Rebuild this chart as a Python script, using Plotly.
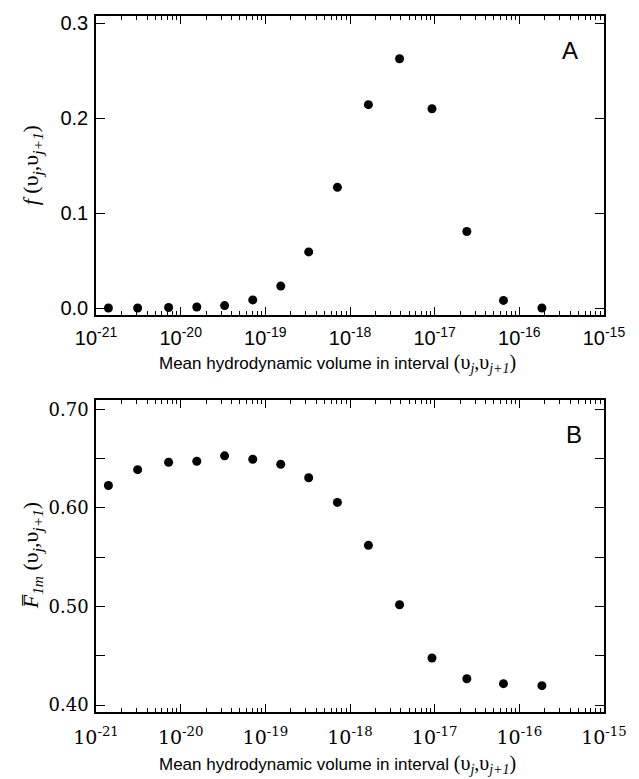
import plotly.graph_objects as go

# Mean hydrodynamic volume (interval midpoints), shared by both panels
volume = [1.4e-21, 3.1e-21, 7.2e-21, 1.55e-20, 3.3e-20, 7.1e-20, 1.52e-19, 3.25e-19,
          7.1e-19, 1.65e-18, 3.85e-18, 9.3e-18, 2.4e-17, 6.5e-17, 1.85e-16]
# Panel A: f(v_j, v_j+1)
f_frac = [0.0005, 0.0005, 0.001, 0.0015, 0.003, 0.009, 0.0235, 0.0595,
          0.1275, 0.2145, 0.2628, 0.2102, 0.081, 0.0085, 0.0005]
# Panel B: mean F_1m(v_j, v_j+1)
f1m = [0.6226, 0.6387, 0.6462, 0.6472, 0.6527, 0.6493, 0.6442, 0.6305,
       0.6055, 0.5620, 0.5017, 0.4477, 0.4267, 0.4217, 0.4197]

a_yticks = [0.0, 0.1, 0.2, 0.3]
b_yticks = [0.40, 0.50, 0.60, 0.70]
b_yminor = [0.45, 0.55, 0.65]
x_exponents = [-21, -20, -19, -18, -17, -16, -15]

x_tickvals = [10.0 ** e for e in x_exponents]
x_ticktext = ["10<sup>-%d</sup>" % (-e) for e in x_exponents]
x_minor = [m * 10.0 ** e for e in x_exponents[:-1] for m in range(2, 10)]

SANS = "Liberation Sans, Arial, sans-serif"
SERIF = "Liberation Serif, Times New Roman, serif"
WSERIF = "DejaVu Serif, serif"

fig = go.Figure()
fig.add_trace(go.Scatter(x=volume, y=f_frac, mode="markers",
                         marker=dict(color="black", size=9), xaxis="x", yaxis="y",
                         showlegend=False))
fig.add_trace(go.Scatter(x=volume, y=f1m, mode="markers",
                         marker=dict(color="black", size=9), xaxis="x2", yaxis="y2",
                         showlegend=False))

common_x = dict(type="log", range=[-21.0005, -14.9995], tickvals=x_tickvals, ticktext=x_ticktext,
                showline=True, linecolor="black", linewidth=1.5, mirror="allticks",
                ticks="inside", ticklen=8, tickwidth=1.2, tickcolor="black",
                minor=dict(ticks="inside", ticklen=4, tickwidth=1, tickcolor="black",
                           tickvals=x_minor),
                showgrid=False, zeroline=False)

fig.update_layout(
    width=639, height=779,
    margin=dict(l=96, r=22, t=13, b=67),
    paper_bgcolor="white", plot_bgcolor="white",
    xaxis=dict(common_x, domain=[0, 1], anchor="y", ticklabelstandoff=5,
               tickfont=dict(family=SANS, size=20, color="black")),
    yaxis=dict(domain=[0.5708, 1.0], range=[-0.0066, 0.3078], tickvals=a_yticks,
               tickformat=".1f", showline=True, linecolor="black", linewidth=1.5,
               mirror="allticks", ticks="inside", ticklen=9, tickwidth=1.2, tickcolor="black",
               showgrid=False, zeroline=False, ticklabelstandoff=2,
               tickfont=dict(family=SANS, size=20, color="black")),
    xaxis2=dict(common_x, domain=[0, 1], anchor="y2", ticklabelstandoff=7,
                tickfont=dict(family=WSERIF, size=19, color="black")),
    yaxis2=dict(domain=[0.0, 0.4478], range=[0.393, 0.709], tickvals=b_yticks,
                tickformat=".2f", showline=True, linecolor="black", linewidth=1.5,
                mirror="allticks", ticks="inside", ticklen=9, tickwidth=1.2, tickcolor="black",
                minor=dict(ticks="inside", ticklen=9, tickwidth=1.2, tickcolor="black",
                           tickvals=b_yminor),
                showgrid=False, zeroline=False, ticklabelstandoff=2,
                tickfont=dict(family=WSERIF, size=18, color="black")),
)

ups = "(υ<sub><i>j</i></sub>,υ<sub><i>j+1</i></sub>)"
xtitle = ("Mean hydrodynamic volume in interval "
          "<span style='font-family:Liberation Serif, serif;font-size:20px'>" + ups + "</span>")

annotations = [
    dict(text=xtitle, x=0.476, y=0.5007, xref="paper", yref="paper", showarrow=False,
         xanchor="center", yanchor="middle", font=dict(family=SANS, size=17, color="black")),
    dict(text=xtitle, x=0.476, y=-0.0758, xref="paper", yref="paper", showarrow=False,
         xanchor="center", yanchor="middle", font=dict(family=SANS, size=17, color="black")),
    dict(text="<i>f</i> " + ups, x=-0.1267, y=0.785, xref="paper", yref="paper",
         showarrow=False, textangle=-90, xanchor="center", yanchor="middle",
         font=dict(family=SERIF, size=22, color="black")),
    dict(text="<i>F\u0305</i><sub><i>1m</i></sub> " + ups, x=-0.1267, y=0.2246,
         xref="paper", yref="paper", showarrow=False, textangle=-90,
         xanchor="center", yanchor="middle", font=dict(family=SERIF, size=22, color="black")),
    dict(text="A", x=0.933, y=0.951, xref="paper", yref="paper", showarrow=False,
         xanchor="center", yanchor="middle", font=dict(family=SANS, size=24, color="black")),
    dict(text="B", x=0.940, y=0.399, xref="paper", yref="paper", showarrow=False,
         xanchor="center", yanchor="middle", font=dict(family=SANS, size=24, color="black")),
]
fig.update_layout(annotations=annotations)

fig.write_html("out.html")
